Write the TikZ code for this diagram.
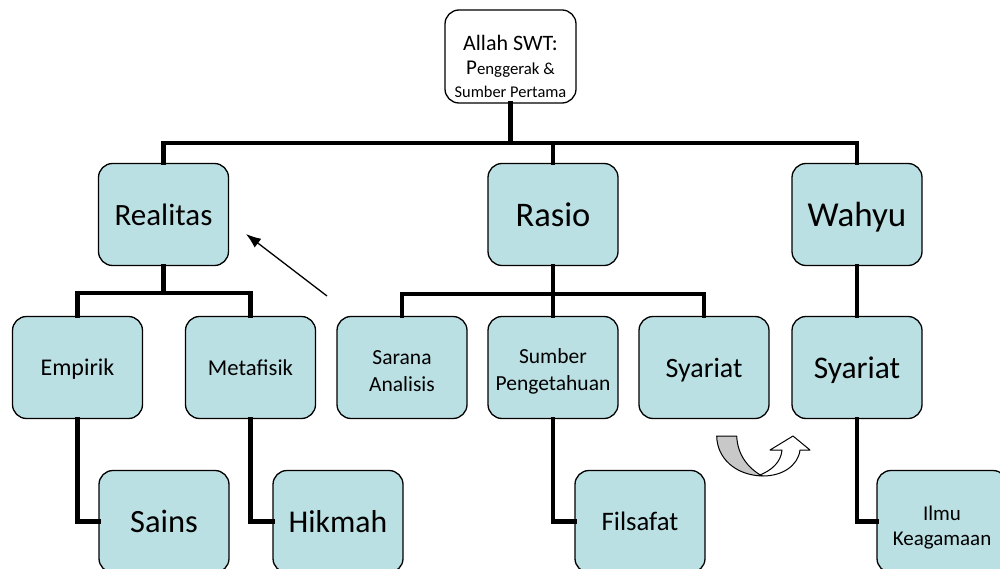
\documentclass[tikz,border=0pt]{standalone}
\usepackage{fontspec}
\setmainfont{Carlito}
\usetikzlibrary{arrows.meta}
\definecolor{boxfill}{RGB}{187,224,227}
\definecolor{grayband}{RGB}{200,200,200}
\tikzset{
  box/.style={draw=black, line width=1.3pt, fill=boxfill, rounded corners=14pt,
    minimum width=130pt, minimum height=102pt, inner sep=2pt, align=center, text=black,
    text depth=0pt},
  txt/.style={inner sep=0pt, align=center, text=black},
  conn/.style={line width=4.5pt, line cap=rect},
  pointer/.style={line width=1.3pt, -{Latex[length=15pt,width=11pt]}},
  curl/.style={draw=black, line width=1pt, line join=round}
}
\newcommand{\fs}[1]{\fontsize{#1}{1.2\dimexpr #1pt\relax}\selectfont}
\begin{document}
\begin{tikzpicture}[x=1pt, y=-1pt]
\useasboundingbox (0,0) rectangle (1000,569);
% top
\node[box, fill=white, minimum width=131pt, minimum height=93pt] (allah) at (510.5,56.5) {};
\node[txt, font=\fontsize{16.4}{23}\selectfont] (allahtxt) at (510.5,66)
  {{\fontsize{22}{26}\selectfont Allah SWT:}\\[1pt]{\fontsize{21}{24}\selectfont P}{\fontsize{16.8}{23}\selectfont enggerak \&}\\Sumber Pertama};
% level 1
\node[box, font=\fs{31}] (realitas) at (163.5,214.5) {Realitas};
\node[box, font=\fs{34.5}] (rasio) at (553,214.5) {Rasio};
\node[box, font=\fs{35}] (wahyu) at (857,214.5) {Wahyu};
% level 2
\node[box, font=\fs{24}] (empirik) at (77.5,367.5) {Empirik};
\node[box, font=\fs{22.7}] (metafisik) at (250.5,367.5) {Metafisik};
\node[box] (sarana) at (402,367.5) {};
\node[txt, font=\fontsize{21.5}{27}\selectfont, yshift=-4pt] (saranatxt) at (sarana.center) {Sarana\\Analisis};
\node[box] (sumber) at (553,367.5) {};
\node[txt, font=\fontsize{21.5}{26.5}\selectfont, yshift=-4pt] (sumbertxt) at (sumber.center) {Sumber\\Pengetahuan};
\node[box, font=\fs{28}] (syariatA) at (704,367.5) {Syariat};
\node[box, font=\fs{31.5}] (syariatB) at (857,367.5) {Syariat};
% level 3
\node[box, font=\fs{32.5}] (sains) at (164,521.5) {Sains};
\node[box, font=\fs{31.7}] (hikmah) at (338,521.5) {Hikmah};
\node[box, font=\fs{26.7}] (filsafat) at (640,521.5) {Filsafat};
\node[box] (ilmu) at (942,521.5) {};
\node[txt, font=\fontsize{21}{25}\selectfont, yshift=-6pt] (ilmutxt) at (ilmu.center) {Ilmu\\Keagamaan};
% buses
\coordinate (bus0) at (0,143);
\coordinate (bus1) at (0,293);
\coordinate (bus2) at (0,294);
% connectors
\draw[conn] (allah.south) -- (allah.south |- bus0);
\draw[conn] (realitas.north) -- (realitas.north |- bus0) -- (wahyu.north |- bus0) -- (wahyu.north);
\draw[conn] (rasio.north) -- (rasio.north |- bus0);
\draw[conn] (realitas.south) -- (realitas.south |- bus1);
\draw[conn] (empirik.north) -- (empirik.north |- bus1) -- (metafisik.north |- bus1) -- (metafisik.north);
\draw[conn] (rasio.south) -- (rasio.south |- bus2);
\draw[conn] (sarana.north) -- (sarana.north |- bus2) -- (syariatA.north |- bus2) -- (syariatA.north);
\draw[conn] (sumber.north) -- (sumber.north |- bus2);
\draw[conn] (wahyu.south) -- (syariatB.north);
\draw[conn] (empirik.south) |- (sains.west);
\draw[conn] (metafisik.south) |- (hikmah.west);
\draw[conn] (sumber.south) |- (filsafat.west);
\draw[conn] (syariatB.south) |- (ilmu.west);
% pointer arrow
\coordinate (ptail) at (327,296);
\coordinate (phead) at (246,234);
\draw[pointer] (ptail) -- (phead);
% curved arrows
\draw[curl, fill=grayband] (716.7,436) .. controls (717,458) and (735,475) .. (762,476)
  .. controls (748,468) and (737.5,455) .. (736.7,436) -- cycle;
\draw[curl, fill=white] (760,475) .. controls (772,470) and (781,462) .. (782,450)
  -- (770,450) -- (793,436) -- (810,450) -- (800,450)
  .. controls (798,466) and (782,476) .. (763,476) -- cycle;
\end{tikzpicture}
\end{document}
